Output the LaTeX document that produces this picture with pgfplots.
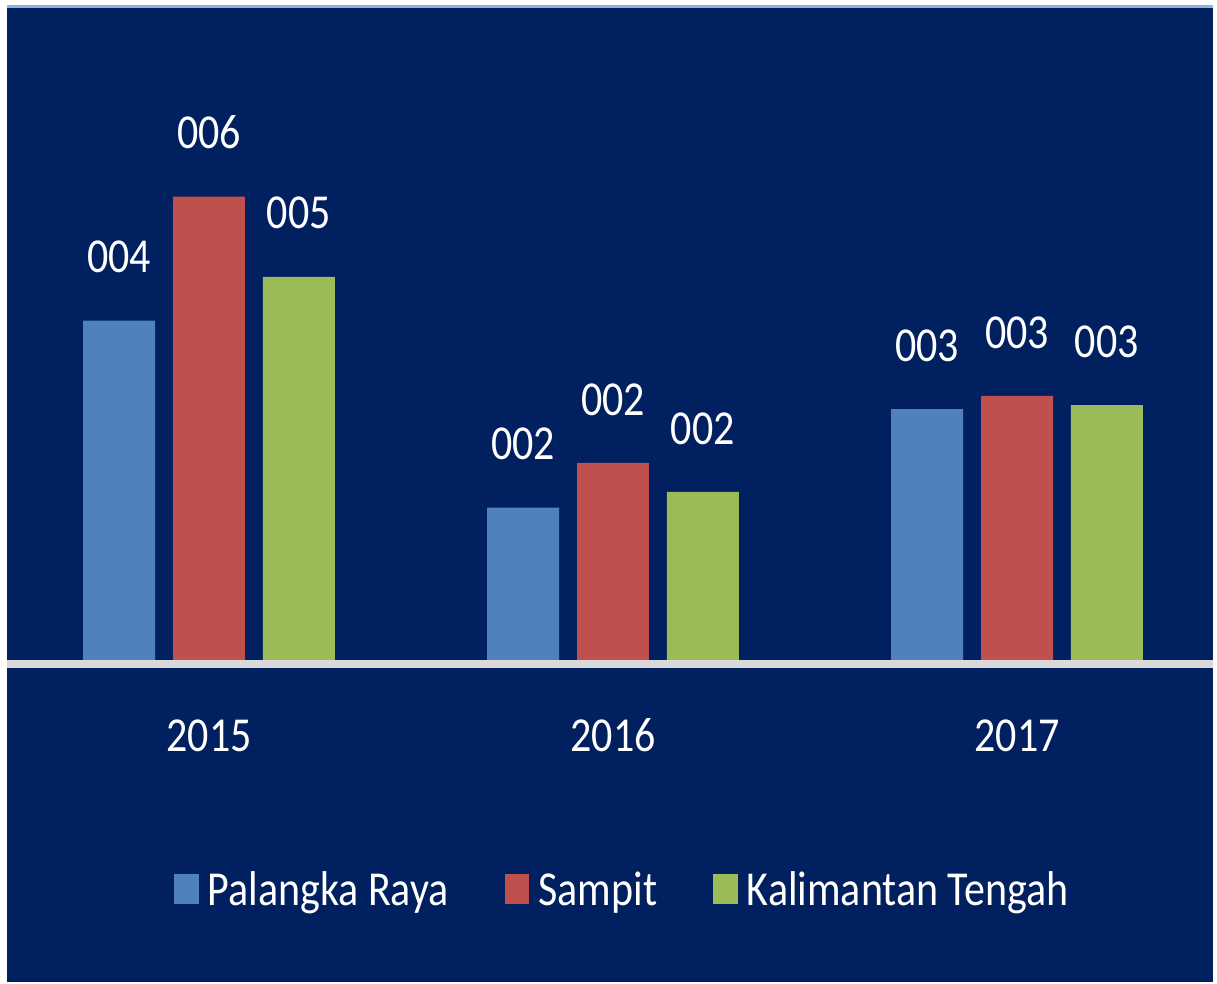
\documentclass[border=0pt]{standalone}
\usepackage{fontspec}
\setmainfont{Carlito}[FakeStretch=0.86]
\usepackage{pgfplots}
\pgfplotsset{compat=1.18}
\definecolor{navy}{HTML}{002060}
\definecolor{topline}{HTML}{8DB4E2}
\definecolor{axisgrey}{HTML}{D9D9D9}
\definecolor{cblue}{HTML}{4F81BD}
\definecolor{cred}{HTML}{C0504D}
\definecolor{cgreen}{HTML}{9BBB59}
\pgfplotsset{
  sqlegend/.style={legend image code/.code={\fill[##1,/tikz/.cd,draw=none] (0pt,-7pt) rectangle (12.5pt,8pt); \path (15pt,0pt);}}
}
\begin{document}
\begin{tikzpicture}
\fill[white] (0,0) rectangle (608.5pt,493.5pt);
\fill[navy] (3.5pt,1pt) rectangle (608.5pt,489.5pt);
\fill[topline] (3.5pt,489.5pt) rectangle (608.5pt,491pt);
\begin{axis}[
  at={(3.5pt,162.5pt)}, anchor=south west,
  scale only axis, width=605pt, height=290.5pt,
  xmin=-0.5, xmax=2.485, ymin=0, ymax=7,
  clip=false,
  axis line style={draw=none},
  ytick=\empty,
  xtick={0,1,2},
  xticklabels={2015,2016,2017},
  major tick length=0pt,
  xticklabel style={anchor=base, yshift=-46pt, text=white, font=\fontsize{24.5}{29}\selectfont},
  ybar, bar width=0.178,
  point meta=explicit symbolic,
  nodes near coords,
  every node near coord/.append style={anchor=base, yshift=24pt, text=white, font=\fontsize{24.5}{29}\selectfont},
  legend columns=3,
  legend style={at={(0.511,-0.397)}, anchor=center, draw=none, fill=none, text=white,
    font=\fontsize{24.5}{29}\selectfont,
    /tikz/every even column/.append style={column sep=26pt}},
]
\addplot[fill=cblue, draw=none, bar shift=-0.2224, sqlegend] coordinates {(0,4.10) [004] (1,1.84) [002] (2,3.03) [003]};
\addplot[fill=cred, draw=none, bar shift=0, sqlegend] coordinates {(0,5.60) [006] (1,2.38) [002] (2,3.19) [003]};
\addplot[fill=cgreen, draw=none, bar shift=0.2224, sqlegend] coordinates {(0,4.63) [005] (1,2.03) [002] (2,3.08) [003]};
\legend{Palangka Raya, Sampit, Kalimantan Tengah}
\draw[line width=4pt, axisgrey] ([yshift=-2pt]axis cs:-0.5,0) -- ([yshift=-2pt]axis cs:2.485,0);
\end{axis}
\end{tikzpicture}
\end{document}
